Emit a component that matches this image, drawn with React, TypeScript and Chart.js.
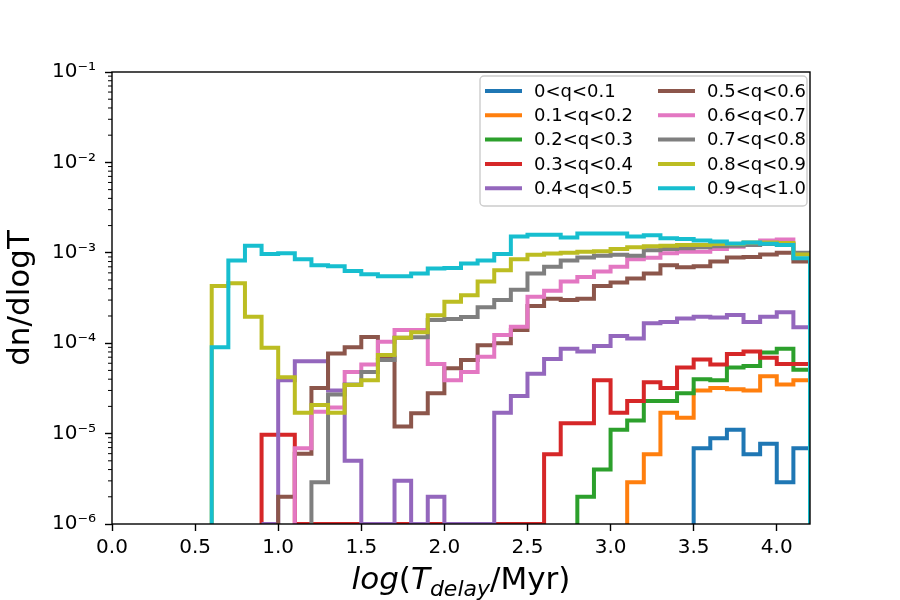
import { useEffect, useRef } from "react";
import { Chart, registerables } from "chart.js";
import type { Plugin } from "chart.js";

Chart.register(...registerables);

// bin edges of the step histograms (log T_delay / Myr)
const BIN_EDGES = [
  0.6, 0.7, 0.8, 0.9, 1.0, 1.1, 1.2, 1.3, 1.4, 1.5, 1.6, 1.7, 1.8, 1.9, 2.0, 2.1, 2.2, 2.3, 2.4,
  2.5, 2.6, 2.7, 2.8, 2.9, 3.0, 3.1, 3.2, 3.3, 3.4, 3.5, 3.6, 3.7, 3.8, 3.9, 4.0, 4.1, 4.2,
];

const LABELS = [
  "0<q<0.1", "0.1<q<0.2", "0.2<q<0.3", "0.3<q<0.4", "0.4<q<0.5",
  "0.5<q<0.6", "0.6<q<0.7", "0.7<q<0.8", "0.8<q<0.9", "0.9<q<1.0",
];
const COLORS = [
  "#1f77b4", "#ff7f0e", "#2ca02c", "#d62728", "#9467bd",
  "#8c564b", "#e377c2", "#7f7f7f", "#bcbd22", "#17becf",
];

// left edge of the first bin drawn for each series
const STARTS = [3.5, 3.1, 2.8, 0.9, 0.9, 1.0, 1.1, 1.2, 0.6, 0.6];

// dn/dlogT per bin, from the start edge onward (0 = empty bin)
const Q0 = [6.9e-6, 8.9e-6, 1.1e-5, 5.9e-6, 7.7e-6, 2.9e-6, 6.9e-6];
const Q1 = [2.9e-6, 5.9e-6, 1.7e-5, 1.5e-5, 3.0e-5, 3.2e-5, 3.1e-5, 3.0e-5, 4.3e-5, 3.5e-5, 3.9e-5];
const Q2 = [2.0e-6, 4.0e-6, 1.1e-5, 1.4e-5, 2.3e-5, 2.3e-5, 2.8e-5, 4.0e-5, 3.9e-5, 5.4e-5, 5.6e-5, 7.9e-5, 8.7e-5, 5.1e-5];
const Q3 = [
  9.7e-6, 9.7e-6, 0, 0, 0, 0, 0, 0, 0, 0, 0, 0, 0, 0, 0, 0, 0,
  5.9e-6, 1.3e-5, 1.3e-5, 3.9e-5, 1.7e-5, 2.3e-5, 3.7e-5, 3.2e-5, 5.4e-5, 6.6e-5, 5.8e-5, 7.6e-5, 8.1e-5, 6.9e-5, 5.9e-5, 5.9e-5,
];
const Q4 = [
  0, 3.9e-5, 6.3e-5, 6.3e-5, 3.0e-5, 5.0e-6, 0, 0, 3.0e-6, 0, 2.0e-6, 0, 0, 0,
  1.7e-5, 2.6e-5, 4.6e-5, 6.7e-5, 8.7e-5, 8.1e-5, 9.3e-5, 1.2e-4, 1.13e-4, 1.66e-4, 1.72e-4, 1.88e-4, 1.96e-4, 1.93e-4, 2.05e-4, 1.72e-4, 1.96e-4, 2.2e-4, 1.5e-4,
];
const Q5 = [
  2.0e-6, 6.0e-6, 3.2e-5, 7.7e-5, 9.0e-5, 1.17e-4, 6.9e-5, 1.2e-5, 1.68e-5, 2.8e-5, 5.3e-5, 6.5e-5, 9.5e-5, 1.0e-4, 1.4e-4, 2.58e-4,
  3.1e-4, 3.0e-4, 3.1e-4, 4.3e-4, 4.7e-4, 5.2e-4, 5.9e-4, 7.3e-4, 6.9e-4, 7.1e-4, 8.0e-4, 8.9e-4, 9.0e-4, 9.6e-4, 1.0e-3, 8.0e-4,
];
const Q6 = [
  6.9e-6, 1.75e-5, 1.95e-5, 4.8e-5, 5.8e-5, 1.04e-4, 1.4e-4, 1.4e-4, 5.9e-5, 3.9e-5, 4.8e-5, 7.1e-5, 1.23e-4, 1.52e-4, 3.27e-4, 3.8e-4,
  4.8e-4, 5.4e-4, 6.2e-4, 7.0e-4, 8.5e-4, 8.8e-4, 9.9e-4, 1.03e-3, 1.03e-3, 1.1e-3, 1.17e-3, 1.27e-3, 1.37e-3, 1.4e-3, 9.8e-4,
];
const Q7 = [
  2.9e-6, 2.7e-5, 3.5e-5, 4.8e-5, 6.5e-5, 1.15e-4, 1.16e-4, 1.8e-4, 1.85e-4, 1.95e-4, 2.5e-4, 3.0e-4, 3.9e-4, 5.9e-4, 7.0e-4,
  8.2e-4, 8.9e-4, 9.3e-4, 9.5e-4, 9.3e-4, 1.07e-3, 1.1e-3, 1.12e-3, 1.15e-3, 1.18e-3, 1.2e-3, 1.22e-3, 1.25e-3, 1.25e-3, 1.0e-3,
];
const Q8 = [
  4.3e-4, 4.6e-4, 1.96e-4, 8.9e-5, 4.2e-5, 1.7e-5, 2.07e-5, 1.7e-5, 3.45e-5, 3.9e-5, 7.4e-5, 1.15e-4, 1.32e-4, 2.04e-4, 2.87e-4, 3.4e-4, 4.8e-4, 6.4e-4,
  8.5e-4, 9.5e-4, 9.8e-4, 1.0e-3, 1.03e-3, 1.04e-3, 1.1e-3, 1.15e-3, 1.18e-3, 1.2e-3, 1.22e-3, 1.22e-3, 1.25e-3, 1.25e-3, 1.3e-3, 1.3e-3, 1.28e-3, 9.6e-4,
];
const Q9 = [
  9.0e-5, 8.2e-4, 1.2e-3, 9.7e-4, 9.9e-4, 8.5e-4, 7.3e-4, 7.1e-4, 6.3e-4, 5.8e-4, 5.5e-4, 5.5e-4, 5.9e-4, 6.7e-4, 6.8e-4, 7.6e-4, 8.2e-4, 9.7e-4,
  1.51e-3, 1.58e-3, 1.58e-3, 1.48e-3, 1.63e-3, 1.63e-3, 1.63e-3, 1.51e-3, 1.56e-3, 1.45e-3, 1.42e-3, 1.37e-3, 1.33e-3, 1.27e-3, 1.3e-3, 1.26e-3, 1.22e-3, 8.7e-4,
];
const SERIES = [Q0, Q1, Q2, Q3, Q4, Q5, Q6, Q7, Q8, Q9];

const X_TICKS = [0, 0.5, 1.0, 1.5, 2.0, 2.5, 3.0, 3.5, 4.0];
const Y_TICKS = [1e-6, 1e-5, 1e-4, 1e-3, 1e-2, 1e-1];
const X_MIN = 0;
const X_MAX = 4.2;
const Y_MIN = 1e-6;
const Y_MAX = 1e-1;

const FONT = "'DejaVu Sans', sans-serif";
const SUP: Record<string, string> = { "-": "\u207b", "0": "\u2070", "1": "\u00b9", "2": "\u00b2", "3": "\u00b3", "4": "\u2074", "5": "\u2075", "6": "\u2076", "7": "\u2077", "8": "\u2078", "9": "\u2079" };

function powLabel(v: number) {
  const e = String(Math.round(Math.log10(v)));
  return "10" + e.split("").map((c) => SUP[c] ?? c).join("");
}

// step outline: rise at the first edge, flat per bin, drop at the last edge
function stepPoints(start: number, values: number[]) {
  const i0 = BIN_EDGES.findIndex((e) => Math.abs(e - start) < 1e-9);
  const pts = [{ x: BIN_EDGES[i0], y: Y_MIN }];
  values.forEach((v, k) => pts.push({ x: BIN_EDGES[i0 + k], y: v > 0 ? v : Y_MIN }));
  pts.push({ x: BIN_EDGES[i0 + values.length], y: Y_MIN });
  return pts;
}

const framePlugin: Plugin<"line"> = {
  id: "frame",
  afterDatasetsDraw(chart) {
    const { ctx, chartArea: a } = chart;
    const y = chart.scales.y;
    ctx.save();
    ctx.strokeStyle = "#000";
    ctx.lineWidth = 1;
    for (let d = -6; d < -1; d++) {
      for (let m = 2; m <= 9; m++) {
        const py = y.getPixelForValue(m * Math.pow(10, d));
        ctx.beginPath();
        ctx.moveTo(a.left - 4, py);
        ctx.lineTo(a.left, py);
        ctx.stroke();
      }
    }
    ctx.lineWidth = 1.4;
    ctx.strokeRect(a.left, a.top, a.right - a.left, a.bottom - a.top);
    ctx.restore();
  },
};

const labelsPlugin: Plugin<"line"> = {
  id: "axisLabels",
  afterDraw(chart) {
    const { ctx, chartArea: a } = chart;
    ctx.save();
    ctx.fillStyle = "#000";
    ctx.textBaseline = "alphabetic";

    // x label: log(T_delay/Myr)
    const parts = [
      { t: "log", f: `italic 31px ${FONT}`, dy: 0 },
      { t: "(", f: `31px ${FONT}`, dy: 0 },
      { t: "T", f: `italic 31px ${FONT}`, dy: 0 },
      { t: "delay", f: `italic 22px ${FONT}`, dy: 7 },
      { t: "/", f: `31px ${FONT}`, dy: 0 },
      { t: "Myr)", f: `31px ${FONT}`, dy: 0 },
    ];
    let total = 0;
    const widths = parts.map((p) => {
      ctx.font = p.f;
      const w = ctx.measureText(p.t).width;
      total += w;
      return w;
    });
    let x = (a.left + a.right) / 2 - total / 2;
    parts.forEach((p, i) => {
      ctx.font = p.f;
      ctx.textAlign = "left";
      ctx.fillText(p.t, x, 589 + p.dy);
      x += widths[i];
    });

    // y label
    ctx.translate(29, (a.top + a.bottom) / 2);
    ctx.rotate(-Math.PI / 2);
    ctx.font = `31px ${FONT}`;
    ctx.textAlign = "center";
    ctx.fillText("dn/dlogT", 0, 0);
    ctx.restore();

    // legend, two columns in the upper right corner
    ctx.save();
    const bx = a.right - 330;
    const by = a.top + 4;
    const bw = 327;
    const bh = 130;
    ctx.beginPath();
    ctx.roundRect(bx, by, bw, bh, 4);
    ctx.fillStyle = "rgba(255,255,255,0.8)";
    ctx.fill();
    ctx.strokeStyle = "#cccccc";
    ctx.lineWidth = 1.4;
    ctx.stroke();
    ctx.font = `18px ${FONT}`;
    ctx.textAlign = "left";
    ctx.textBaseline = "middle";
    chart.data.datasets.forEach((ds, i) => {
      const col = Math.floor(i / 5);
      const row = i % 5;
      const ly = by + 15 + row * 24.3;
      const lx = bx + 5 + col * 173;
      ctx.strokeStyle = ds.borderColor as string;
      ctx.lineWidth = 4;
      ctx.beginPath();
      ctx.moveTo(lx, ly);
      ctx.lineTo(lx + 37, ly);
      ctx.stroke();
      ctx.fillStyle = "#000";
      ctx.fillText(ds.label ?? "", lx + 49, ly + 1);
    });
    ctx.restore();
  },
};

export default function App() {
  const canvasRef = useRef<HTMLCanvasElement>(null);
  const chartRef = useRef<Chart<"line"> | null>(null);

  useEffect(() => {
    if (!canvasRef.current) return;
    chartRef.current?.destroy();

    const datasets = SERIES.map((vals, i) => ({
      label: LABELS[i],
      data: stepPoints(STARTS[i], vals),
      borderColor: COLORS[i],
      backgroundColor: COLORS[i],
      borderWidth: 4,
      stepped: true as const,
      pointRadius: 0,
      fill: false,
      order: SERIES.length - 1 - i,
      borderJoinStyle: "miter" as const,
    }));

    chartRef.current = new Chart(canvasRef.current, {
      type: "line",
      data: { datasets },
      options: {
        animation: false,
        responsive: true,
        maintainAspectRatio: false,
        layout: { padding: { top: 72, right: 90, left: 0, bottom: 0 } },
        plugins: { legend: { display: false }, tooltip: { enabled: false } },
        scales: {
          x: {
            type: "linear",
            min: X_MIN,
            max: X_MAX,
            afterBuildTicks: (s) => { s.ticks = X_TICKS.map((v) => ({ value: v })); },
            afterFit: (s) => { s.height = 76; },
            ticks: {
              autoSkip: false,
              maxRotation: 0,
              padding: 5,
              color: "#000",
              font: { family: FONT, size: 20 },
              callback: (v) => Number(v).toFixed(1),
            },
            grid: { drawOnChartArea: false, drawTicks: true, tickLength: 7, tickColor: "#000", tickWidth: 1.4 },
            border: { display: false },
          },
          y: {
            type: "logarithmic",
            min: Y_MIN,
            max: Y_MAX,
            afterBuildTicks: (s) => { s.ticks = Y_TICKS.map((v) => ({ value: v, major: true })); },
            afterFit: (s) => { s.width = 112; },
            ticks: {
              autoSkip: false,
              padding: 9,
              color: "#000",
              font: { family: FONT, size: 20 },
              callback: (v) => powLabel(Number(v)),
            },
            grid: { drawOnChartArea: false, drawTicks: true, tickLength: 7, tickColor: "#000", tickWidth: 1.4 },
            border: { display: false },
          },
        },
      },
      plugins: [framePlugin, labelsPlugin],
    });

    return () => { chartRef.current?.destroy(); };
  }, []);

  return (
    <div style={{ position: "absolute", left: 0, top: 0, width: "900px", height: "600px", background: "#fff" }}>
      <canvas ref={canvasRef} />
    </div>
  );
}
